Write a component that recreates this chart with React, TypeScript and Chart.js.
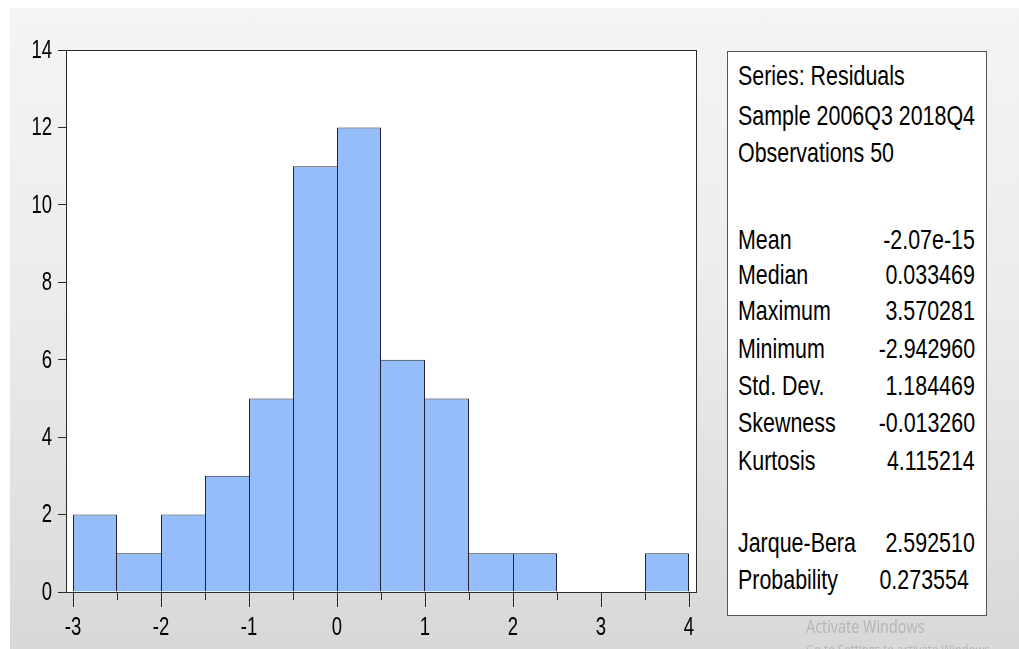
import React, { useEffect, useRef } from "react";
import { Chart, registerables } from "chart.js";

Chart.register(...registerables);

// ---- data ----
const binStarts = [-3, -2.5, -2, -1.5, -1, -0.5, 0, 0.5, 1, 1.5, 2, 2.5, 3, 3.5];
const binWidth = 0.5;
const counts = [2, 1, 2, 3, 5, 11, 12, 6, 5, 1, 1, 0, 0, 1];
const xTickValues = [-3, -2, -1, 0, 1, 2, 3, 4];
const yTickValues = [0, 2, 4, 6, 8, 10, 12, 14];

const headerLines = ["Series: Residuals", "Sample 2006Q3 2018Q4", "Observations 50"];
const statLabels = ["Mean", "Median", "Maximum", "Minimum", "Std. Dev.", "Skewness", "Kurtosis"];
const statValues = ["-2.07e-15", "0.033469", "3.570281", "-2.942960", "1.184469", "-0.013260", "4.115214"];
const testLabels = ["Jarque-Bera", "Probability"];
const testValues = ["2.592510", "0.273554"];

// ---- layout (page-pixel cap centres of the text rows) ----
const headerCenters = [75.5, 116, 153];
const statCenters = [240, 275, 311, 349, 386, 423, 461];
const testCenters = [543, 580];

const TEXT_FONT = "'Liberation Sans', Arial, sans-serif";
const TICK_SIZE = 25;
const SQUEEZE = 0.74;
const W = 1009;
const H = 641;
const OX = 10;
const OY = 8;
const PAD_UNITS = 7 / 88; // space between frame and first/last bin edge

const framePlugin = {
  id: "frame",
  beforeDraw(chart: any) {
    const { ctx, chartArea: a } = chart;
    ctx.save();
    ctx.fillStyle = "#ffffff";
    ctx.fillRect(a.left, a.top, a.right - a.left, a.bottom - a.top);
    ctx.restore();
  },
  afterDraw(chart: any) {
    const { ctx, chartArea: a } = chart;
    const xs = chart.scales.x;
    const ys = chart.scales.y;
    ctx.save();
    ctx.strokeStyle = "#2a2a2a";
    ctx.lineWidth = 1;
    ctx.strokeRect(Math.round(a.left) + 0.5, Math.round(a.top) + 0.5, Math.round(a.right - a.left), Math.round(a.bottom - a.top));
    // minor ticks at bin edges that are not integers
    const edges = binStarts.concat([binStarts[binStarts.length - 1] + binWidth]);
    ctx.beginPath();
    edges.forEach((e) => {
      if (Number.isInteger(e)) return;
      const px = Math.round(xs.getPixelForValue(e)) + 0.5;
      ctx.moveTo(px, a.bottom);
      ctx.lineTo(px, a.bottom + 8);
    });
    ctx.stroke();

    // condensed tick labels, placed by the scales
    ctx.font = `${TICK_SIZE}px ${TEXT_FONT}`;
    ctx.fillStyle = "#000000";
    ctx.textBaseline = "middle";
    ys.ticks.forEach((t: any) => {
      const py = ys.getPixelForValue(t.value);
      ctx.save();
      ctx.translate(a.left - 14, py + 1);
      ctx.scale(SQUEEZE, 1);
      ctx.textAlign = "right";
      ctx.fillText(String(t.value), 0, 0);
      ctx.restore();
    });
    xs.ticks.forEach((t: any) => {
      const px = xs.getPixelForValue(t.value);
      ctx.save();
      ctx.translate(px, a.bottom + 36);
      ctx.scale(SQUEEZE, 1);
      ctx.textAlign = "center";
      ctx.fillText(String(t.value), 0, 0);
      ctx.restore();
    });
    ctx.restore();
  },
};

function HistChart() {
  const ref = useRef<HTMLCanvasElement | null>(null);
  useEffect(() => {
    if (!ref.current) return;
    const data = binStarts.map((s, i) => ({ x: s + binWidth / 2, y: counts[i] }));
    const chart = new Chart(ref.current, {
      type: "bar",
      data: {
        datasets: [
          {
            data: data as any,
            backgroundColor: "#95bdfa",
            borderColor: "#222230",
            borderSkipped: false,
            inflateAmount: 0,
            barPercentage: 1,
            categoryPercentage: 1,
            borderWidth: (c: any) => {
              const i = c.dataIndex;
              const v = counts[i];
              const prev = i > 0 ? counts[i - 1] : 0;
              const next = i < counts.length - 1 ? counts[i + 1] : 0;
              return {
                top: v > 0 ? 1 : 0,
                left: v > 0 && prev <= v ? 1 : 0,
                right: v > 0 && next < v ? 1 : 0,
                bottom: 0,
              };
            },
          } as any,
        ],
      },
      options: {
        animation: false,
        responsive: false,
        devicePixelRatio: 1,
        layout: { padding: { top: 42, right: 323, left: 0, bottom: 0 } },
        plugins: { legend: { display: false }, tooltip: { enabled: false } },
        scales: {
          x: {
            type: "linear",
            offset: false,
            min: binStarts[0] - PAD_UNITS,
            max: binStarts[binStarts.length - 1] + binWidth + PAD_UNITS,
            afterBuildTicks: (s: any) => {
              s.ticks = xTickValues.map((v) => ({ value: v }));
            },
            afterFit: (s: any) => {
              s.height = 57;
            },
            grid: { display: true, offset: false, drawOnChartArea: false, drawTicks: true, tickLength: 15, color: "#2a2a2a" },
            border: { display: false },
            ticks: {
              font: { family: TEXT_FONT, size: TICK_SIZE },
              color: "rgba(0,0,0,0)",
              padding: 4,
              maxRotation: 0,
              autoSkip: false,
              includeBounds: false,
              callback: (v: any) => String(v),
            },
          },
          y: {
            min: 0,
            max: 14,
            afterBuildTicks: (s: any) => {
              s.ticks = yTickValues.map((v) => ({ value: v }));
            },
            afterFit: (s: any) => {
              s.width = 56;
            },
            grid: { display: true, drawOnChartArea: false, drawTicks: true, tickLength: 8, color: "#2a2a2a" },
            border: { display: false },
            ticks: {
              font: { family: TEXT_FONT, size: TICK_SIZE },
              color: "rgba(0,0,0,0)",
              padding: 6,
              autoSkip: false,
              callback: (v: any) => String(v),
            },
          },
        },
      },
      plugins: [framePlugin],
    } as any);
    return () => chart.destroy();
  }, []);
  return <canvas ref={ref} width={W} height={H} style={{ position: "absolute", left: 0, top: 0, width: W, height: H }} />;
}

function Row({ label, value, center, valueRight = 44 }: { label: string; value?: string; center: number; valueRight?: number }) {
  const top = center - OY - 17.7;
  const base: React.CSSProperties = {
    position: "absolute",
    top,
    height: 36,
    lineHeight: "36px",
    fontSize: 28,
    fontFamily: TEXT_FONT,
    color: "#000000",
    whiteSpace: "nowrap",
  };
  return (
    <>
      <div style={{ ...base, left: 738 - OX, transform: "scaleX(0.765)", transformOrigin: "left center" }}>{label}</div>
      {value !== undefined && (
        <div style={{ ...base, right: valueRight, transform: "scaleX(0.765)", transformOrigin: "right center" }}>{value}</div>
      )}
    </>
  );
}

export default function App() {
  useEffect(() => {
    document.documentElement.style.overflow = "hidden";
    document.body.style.overflow = "hidden";
  }, []);
  return (
    <div
      style={{
        position: "absolute",
        left: OX,
        top: OY,
        width: W,
        height: H,
        overflow: "hidden",
        background: "linear-gradient(to bottom, #f4f4f4 0%, #ececec 45%, #d8d8d8 100%)",
      }}
    >
      <HistChart />
      <div
        style={{
          position: "absolute",
          left: 727 - OX,
          top: 51 - OY,
          width: 260,
          height: 565,
          boxSizing: "border-box",
          border: "1px solid #555555",
          background: "#ffffff",
        }}
      />
      {headerLines.map((t, i) => (
        <Row key={"h" + i} label={t} center={headerCenters[i]} />
      ))}
      {statLabels.map((t, i) => (
        <Row key={"s" + i} label={t} value={statValues[i]} center={statCenters[i]} />
      ))}
      {testLabels.map((t, i) => (
        <Row key={"t" + i} label={t} value={testValues[i]} center={testCenters[i]} valueRight={i === 1 ? 50 : 44} />
      ))}
      <div
        style={{
          position: "absolute",
          left: 806 - OX,
          top: 615 - OY,
          fontFamily: "'Open Sans', 'Noto Sans', sans-serif",
          fontSize: 19,
          lineHeight: "22px",
          color: "#b4b4b4",
          whiteSpace: "nowrap",
          transform: "scaleX(0.76)",
          transformOrigin: "left top",
        }}
      >
        <div>Activate Windows</div>
        <div style={{ fontSize: 15, marginTop: 1 }}>Go to Settings to activate Windows.</div>
      </div>
    </div>
  );
}
